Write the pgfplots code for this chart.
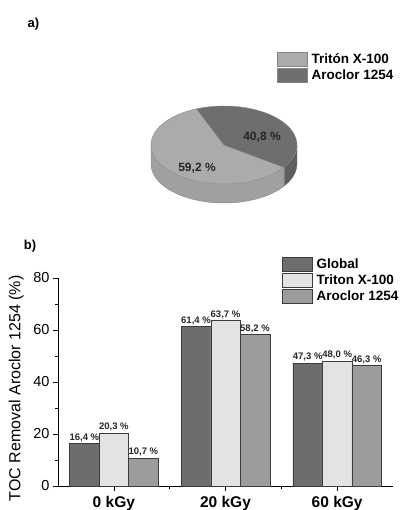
\documentclass[border=0pt]{standalone}
\usepackage{fontspec}
\setmainfont{Liberation Sans}
\usepackage{pgfplots}
\pgfplotsset{compat=1.18}
\definecolor{cglob}{HTML}{6D6D6D}
\definecolor{ctri}{HTML}{E3E3E3}
\definecolor{caro}{HTML}{9C9C9C}
\definecolor{ptri}{HTML}{ABABAB}
\definecolor{ptris}{HTML}{A0A0A0}
\definecolor{paro}{HTML}{6E6E6E}
\definecolor{paros}{HTML}{5E5E5E}
\definecolor{edge}{HTML}{3C3C3C}
\definecolor{pedge}{HTML}{858585}
\begin{document}
\begin{tikzpicture}[x=1pt,y=1pt]
\path[use as bounding box] (0,0) rectangle (400,510);
\pgfmathsetmacro{\aro}{40.8}
\pgfmathsetmacro{\tri}{59.2}
\pgfmathsetmacro{\sA}{112}
\pgfmathsetmacro{\eT}{\sA+3.6*\tri}
\pgfmathsetmacro{\eA}{\sA+360}
% ---------- pie (a) ----------
\begin{axis}[at={(0,0)}, anchor=south west, scale only axis,
  width=400pt, height=510pt, xmin=0, xmax=400, ymin=0, ymax=510,
  hide axis, clip=false,
  legend style={at={(axis cs:277,458)}, anchor=north west, draw=none, fill=none,
    inner sep=0pt, row sep=1.5pt, font=\bfseries\fontsize{13.5}{16}\selectfont,
    nodes={inner xsep=4pt, inner ysep=0pt}},
  legend cell align=left,
  legend image code/.code={\draw[#1] (0pt,-7pt) rectangle (30pt,7pt);}]
\addlegendimage{fill=ptri, draw=pedge}
\addlegendentry{Tritón X-100}
\addlegendimage{fill=paro, draw=pedge}
\addlegendentry{Aroclor 1254}
% side faces
\fill[ptris] (axis cs:224,365) ++(180:73pt and 39pt)
   arc[start angle=180, end angle=\eT, x radius=73pt, y radius=39pt]
   -- ++(0pt,-19pt)
   arc[start angle=\eT, end angle=180, x radius=73pt, y radius=39pt] -- cycle;
\fill[paros] (axis cs:224,365) ++(\eT:73pt and 39pt)
   arc[start angle=\eT, end angle=360, x radius=73pt, y radius=39pt]
   -- ++(0pt,-19pt)
   arc[start angle=360, end angle=\eT, x radius=73pt, y radius=39pt] -- cycle;
\draw[pedge, line width=0.4pt] (axis cs:224,365) ++(180:73pt and 39pt) -- ++(0pt,-19pt)
   arc[start angle=180, end angle=360, x radius=73pt, y radius=39pt] -- ++(0pt,19pt);
\draw[pedge, line width=0.4pt] (axis cs:224,365) ++(\eT:73pt and 39pt) -- ++(0pt,-19pt);
% top faces
\filldraw[fill=ptri, draw=pedge, line width=0.4pt] (axis cs:224,365) -- ++(\sA:73pt and 39pt)
   arc[start angle=\sA, end angle=\eT, x radius=73pt, y radius=39pt] -- cycle;
\filldraw[fill=paro, draw=pedge, line width=0.4pt] (axis cs:224,365) -- ++(\eT:73pt and 39pt)
   arc[start angle=\eT, end angle=\eA, x radius=73pt, y radius=39pt] -- cycle;
\node[font=\bfseries\fontsize{12}{14}\selectfont, text=black!85] at (axis cs:262,373) {40,8 \%};
\node[font=\bfseries\fontsize{12}{14}\selectfont, text=black!85] at (axis cs:197,342) {59,2 \%};
\node[font=\bfseries\fontsize{13}{15}\selectfont] at (axis cs:33.5,486) {a)};
\node[font=\bfseries\fontsize{13}{15}\selectfont] at (axis cs:30,264) {b)};
\end{axis}
% ---------- bars (b) ----------
\begin{axis}[at={(58pt,24pt)}, anchor=south west, scale only axis,
  width=335pt, height=208pt,
  xmin=-0.5, xmax=2.5, ymin=0, ymax=80,
  axis x line*=bottom, axis y line*=left,
  axis line style={-, line width=0.6pt},
  ybar, bar width=29.5pt,
  xtick={0,1,2}, xticklabels={0 kGy,20 kGy,60 kGy}, minor xtick={0.5,1.5},
  ytick={0,20,40,60,80}, minor ytick={10,30,50,70},
  tick align=outside, major tick length=5pt, minor tick length=3pt,
  tick style={black, line width=0.6pt},
  xticklabel style={font=\bfseries\fontsize{15.5}{18}\selectfont, yshift=-1.5pt},
  yticklabel style={font=\fontsize{14.5}{17}\selectfont},
  /pgf/number format/assume math mode=true,
  ylabel={TOC Removal Aroclor 1254 (\%)},
  ylabel style={at={(axis description cs:-0.125,0.47)}, anchor=center,
    font=\fontsize{16}{19}\selectfont},
  nodes near coords, point meta=explicit symbolic,
  every node near coord/.append style={font=\bfseries\fontsize{9.5}{11}\selectfont,
    inner sep=1.5pt, text=black!85},
  legend style={at={(0.6687,1.101)}, anchor=north west, draw=none, fill=none,
    inner sep=0pt, row sep=1.5pt, font=\bfseries\fontsize{13.5}{16}\selectfont,
    nodes={inner xsep=4pt, inner ysep=0pt}},
  legend cell align=left,
  legend image code/.code={\draw[#1] (0pt,-7pt) rectangle (30pt,7pt);}]
\addplot[fill=cglob, draw=edge, line width=0.5pt, bar shift=-29.5pt]
  coordinates {(0,16.4) [16,4 \%] (1,61.4) [61,4 \%] (2,47.3) [47,3 \%]};
\addplot[fill=ctri, draw=edge, line width=0.5pt, bar shift=0pt]
  coordinates {(0,20.3) [20,3 \%] (1,63.7) [63,7 \%] (2,48.0) [48,0 \%]};
\addplot[fill=caro, draw=edge, line width=0.5pt, bar shift=29.5pt]
  coordinates {(0,10.7) [10,7 \%] (1,58.2) [58,2 \%] (2,46.3) [46,3 \%]};
\legend{Global, Triton X-100, Aroclor 1254}
\end{axis}
\end{tikzpicture}
\end{document}
